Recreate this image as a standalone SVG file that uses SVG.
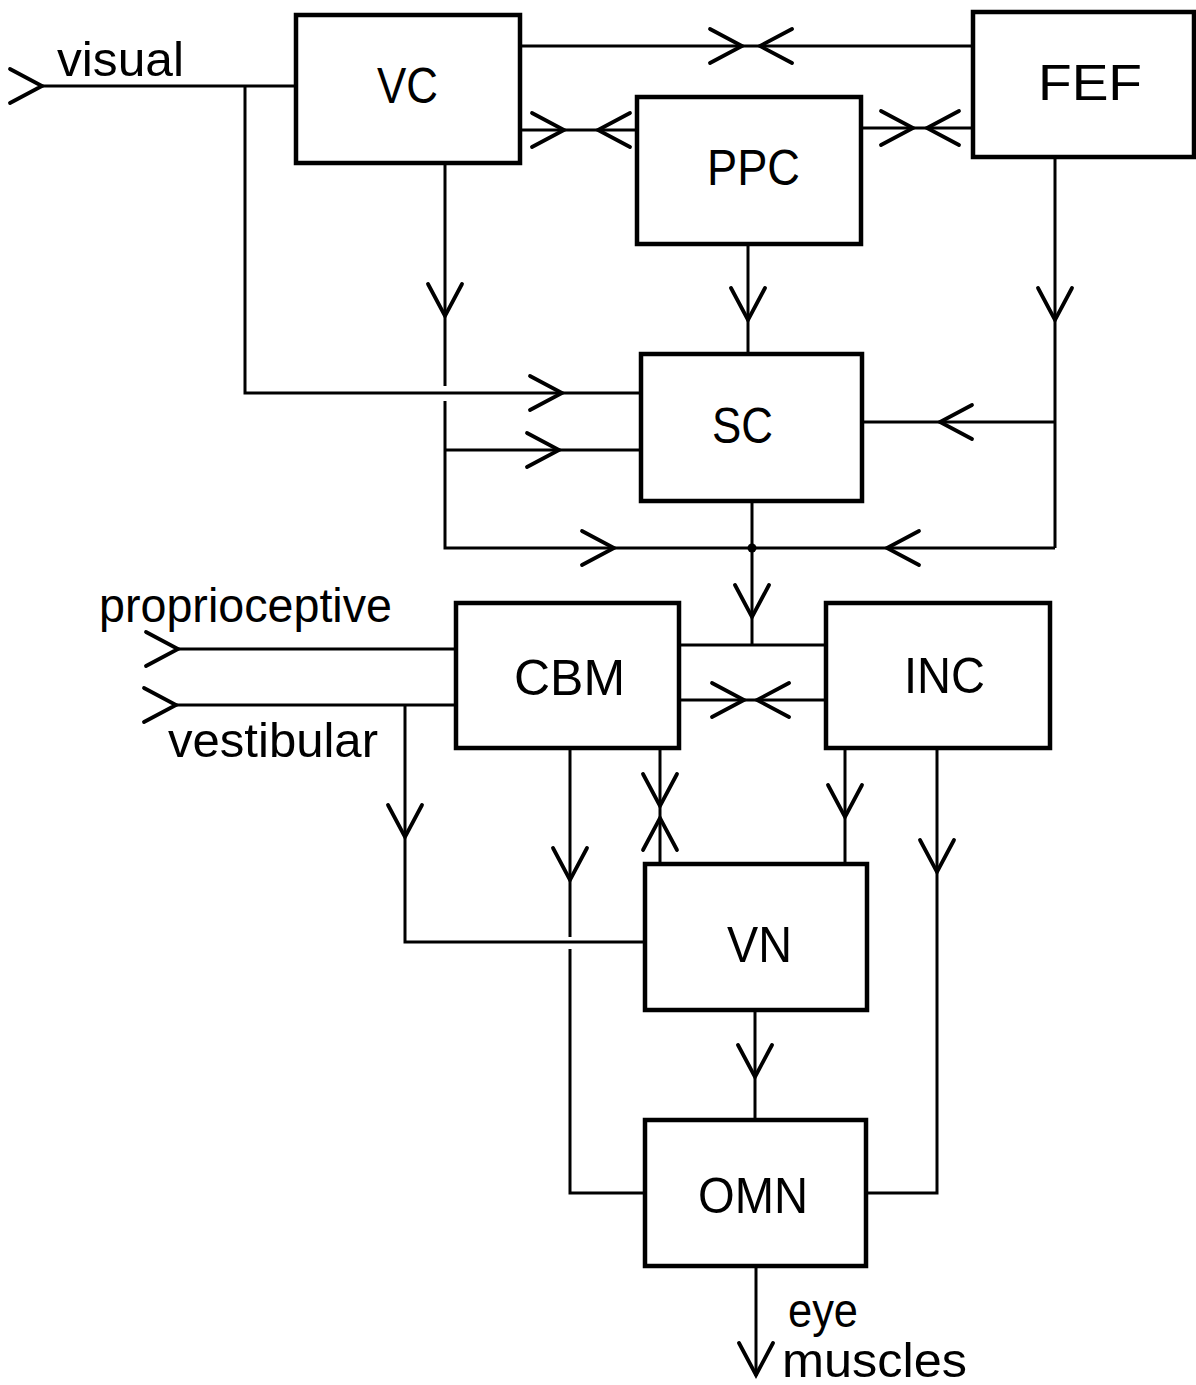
<svg xmlns="http://www.w3.org/2000/svg" xmlns:xlink="http://www.w3.org/1999/xlink" width="1196" height="1385" viewBox="0 0 1196 1385">
<style>
.box{fill:none;stroke:#000;stroke-width:4.5}
.ln{fill:none;stroke:#000;stroke-width:3}
.ch{fill:none;stroke:#000;stroke-width:3.8;stroke-linecap:round;stroke-linejoin:miter}
.lbl{font-family:"Liberation Sans",Arial,sans-serif;font-size:50px;fill:#000}
.txt{font-family:"Liberation Sans",Arial,sans-serif;font-size:48px;fill:#000}
</style>
<defs>
<path id="chev" class="ch" d="M-32,-17 L0,0 L-32,17"/>
</defs>
<rect width="1196" height="1385" fill="#fff"/>

<g id="connectors">
<!-- visual input -->
<path class="ln" d="M42,86 H296"/>
<use xlink:href="#chev" transform="translate(42,86)"/>
<path class="ln" d="M245,86 V393 H641"/>
<use xlink:href="#chev" transform="translate(562,393)"/>
<!-- VC down -->
<path class="ln" d="M445,163 V386 M445,401 V548 H1055"/>
<use xlink:href="#chev" transform="translate(445,316) rotate(90)"/>
<path class="ln" d="M445,450 H641"/>
<use xlink:href="#chev" transform="translate(559,450)"/>
<use xlink:href="#chev" transform="translate(614,548)"/>
<use xlink:href="#chev" transform="translate(887,548) rotate(180)"/>
<!-- VC - FEF -->
<path class="ln" d="M520,46 H973"/>
<use xlink:href="#chev" transform="translate(742,46)"/>
<use xlink:href="#chev" transform="translate(760,46) rotate(180)"/>
<!-- VC - PPC -->
<path class="ln" d="M520,130 H637"/>
<use xlink:href="#chev" transform="translate(564,130)"/>
<use xlink:href="#chev" transform="translate(598,130) rotate(180)"/>
<!-- PPC - FEF -->
<path class="ln" d="M861,128 H973"/>
<use xlink:href="#chev" transform="translate(913,128)"/>
<use xlink:href="#chev" transform="translate(927,128) rotate(180)"/>
<!-- PPC down -->
<path class="ln" d="M748,244 V354"/>
<use xlink:href="#chev" transform="translate(748,320) rotate(90)"/>
<!-- FEF down -->
<path class="ln" d="M1055,157 V548"/>
<use xlink:href="#chev" transform="translate(1055,320) rotate(90)"/>
<path class="ln" d="M1055,422 H862"/>
<use xlink:href="#chev" transform="translate(940,422) rotate(180)"/>
<!-- SC down -->
<path class="ln" d="M752,501 V645"/>
<circle cx="752" cy="548" r="4.5" fill="#000"/>
<use xlink:href="#chev" transform="translate(752,617) rotate(90)"/>
<path class="ln" d="M679,645 H826"/>
<!-- CBM - INC -->
<path class="ln" d="M679,700 H826"/>
<use xlink:href="#chev" transform="translate(744,700)"/>
<use xlink:href="#chev" transform="translate(757,700) rotate(180)"/>
<!-- proprioceptive / vestibular -->
<path class="ln" d="M178,649 H456"/>
<use xlink:href="#chev" transform="translate(178,649)"/>
<path class="ln" d="M176,705 H456"/>
<use xlink:href="#chev" transform="translate(176,705)"/>
<path class="ln" d="M405,705 V942 H645"/>
<use xlink:href="#chev" transform="translate(405,837) rotate(90)"/>
<!-- CBM down to OMN -->
<path class="ln" d="M570,748 V937 M570,949 V1193 H645"/>
<use xlink:href="#chev" transform="translate(570,880) rotate(90)"/>
<!-- CBM - VN -->
<path class="ln" d="M660,748 V864"/>
<use xlink:href="#chev" transform="translate(660,806) rotate(90)"/>
<use xlink:href="#chev" transform="translate(660,818) rotate(-90)"/>
<!-- INC - VN -->
<path class="ln" d="M845,748 V864"/>
<use xlink:href="#chev" transform="translate(845,817) rotate(90)"/>
<!-- INC - OMN -->
<path class="ln" d="M937,748 V1193 H866"/>
<use xlink:href="#chev" transform="translate(937,872) rotate(90)"/>
<!-- VN - OMN -->
<path class="ln" d="M755,1010 V1120"/>
<use xlink:href="#chev" transform="translate(755,1077) rotate(90)"/>
<!-- OMN out -->
<path class="ln" d="M756,1266 V1376"/>
<use xlink:href="#chev" transform="translate(756,1375) rotate(90)"/>
</g>

<g id="VC"><rect class="box" x="296" y="15" width="224" height="148"/><text class="lbl" x="377" y="103" textLength="61" lengthAdjust="spacingAndGlyphs">VC</text></g>
<g id="FEF"><rect class="box" x="973" y="12" width="221" height="145"/><text class="lbl" x="1038" y="100" textLength="104" lengthAdjust="spacingAndGlyphs">FEF</text></g>
<g id="PPC"><rect class="box" x="637" y="97" width="224" height="147"/><text class="lbl" x="707" y="185" textLength="93" lengthAdjust="spacingAndGlyphs">PPC</text></g>
<g id="SC"><rect class="box" x="641" y="354" width="221" height="147"/><text class="lbl" x="712" y="443" textLength="61" lengthAdjust="spacingAndGlyphs">SC</text></g>
<g id="CBM"><rect class="box" x="456" y="603" width="223" height="145"/><text class="lbl" x="514" y="695" textLength="111" lengthAdjust="spacingAndGlyphs">CBM</text></g>
<g id="INC"><rect class="box" x="826" y="603" width="224" height="145"/><text class="lbl" x="904" y="693" textLength="81" lengthAdjust="spacingAndGlyphs">INC</text></g>
<g id="VN"><rect class="box" x="645" y="864" width="222" height="146"/><text class="lbl" x="727" y="962" textLength="65" lengthAdjust="spacingAndGlyphs">VN</text></g>
<g id="OMN"><rect class="box" x="645" y="1120" width="221" height="146"/><text class="lbl" x="698" y="1213" textLength="110" lengthAdjust="spacingAndGlyphs">OMN</text></g>

<g id="labels">
<text class="txt" x="57" y="76" textLength="127" lengthAdjust="spacingAndGlyphs">visual</text>
<text class="txt" x="99" y="622" textLength="293" lengthAdjust="spacingAndGlyphs">proprioceptive</text>
<text class="txt" x="168" y="757" textLength="210" lengthAdjust="spacingAndGlyphs">vestibular</text>
<text class="txt" x="788" y="1327" textLength="70" lengthAdjust="spacingAndGlyphs">eye</text>
<text class="txt" x="782" y="1377" textLength="185" lengthAdjust="spacingAndGlyphs">muscles</text>
</g>
</svg>
